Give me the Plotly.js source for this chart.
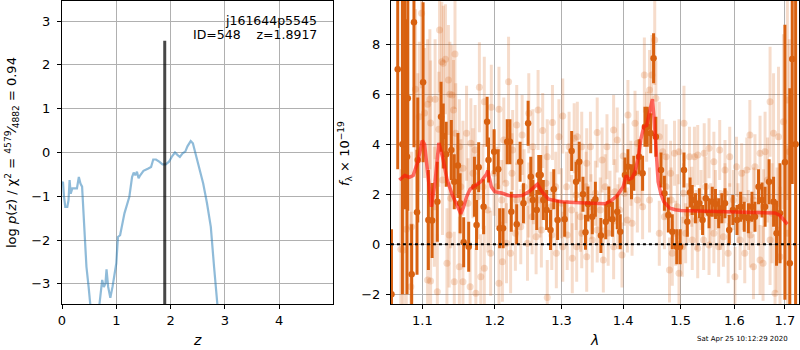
<!DOCTYPE html>
<html>
<head>
<meta charset="utf-8">
<script src="https://cdn.plot.ly/plotly-3.0.1.min.js"></script>
<style>html,body{margin:0;padding:0;background:#fff}#chart{width:800px;height:350px}</style>
</head>
<body>
<div id="chart"></div>
<script>
// ---------- left panel: redshift PDF ----------
const zGrid = [0.005,0.018,0.037,0.06,0.098,0.12,0.14,0.16,0.19,0.226,
  0.275,0.31,0.34,0.37,0.41,0.45,0.49,0.52,0.6,0.69,
  0.74,0.77,0.80,0.82,0.85,0.89,0.93,1.0,1.03,1.07,
  1.15,1.24,1.29,1.32,1.35,1.38,1.41,1.44,1.50,1.58,
  1.64,1.68,1.73,1.79,1.85,1.91,1.97,2.03,2.08,2.13,
  2.17,2.22,2.27,2.31,2.37,2.41,2.46,2.52,2.60,2.67,
  2.74,2.80,2.86,2.92];
const logPz = [-0.7,-0.67,-1.01,-1.24,-1.24,-1.09,-0.63,-0.94,-0.82,-0.82,
  -0.82,-0.56,-0.71,-0.78,-1.7,-2.61,-3.07,-3.46,-4.5,-3.46,
  -2.91,-3.07,-2.99,-2.67,-3.07,-3.32,-3.07,-2.53,-1.93,-1.89,
  -1.39,-1.01,-0.56,-0.46,-0.52,-0.44,-0.59,-0.52,-0.42,-0.37,
  -0.33,-0.16,-0.16,-0.21,-0.27,-0.27,-0.21,-0.08,0.0,-0.06,
  -0.10,-0.02,0.02,0.14,0.26,0.21,-0.02,-0.29,-0.71,-1.16,
  -1.7,-2.61,-3.46,-4.3];
const zBest = 1.8917;
const zBestLine = [-4.0, 2.55];
const zTicks = [0,1,2,3,4];
const pzTicks = [-3,-2,-1,0,1,2,3];
const pzTickText = ['\u22123','\u22122','\u22121','0','1','2','3'];

// ---------- right panel: spectrum ----------
const darkLam = [1.060,1.068,1.074,1.077,1.080,1.081,1.086,1.089,1.093,1.094,
  1.101,1.108,1.113,1.120,1.125,1.128,1.132,1.139,1.143,1.148,
  1.151,1.156,1.163,1.171,1.174,1.177,1.184,1.189,1.191,1.199,
  1.205,1.207,1.212,1.218,1.222,1.224,1.232,1.237,1.242,1.249,
  1.253,1.256,1.262,1.265,1.268,1.272,1.277,1.283,1.288,1.294,
  1.305,1.316,1.323,1.328,1.334,1.338,1.342,1.349,1.354,1.363,
  1.371,1.376,1.382,1.390,1.395,1.403,1.408,1.414,1.418,1.427,
  1.433,1.437,1.441,1.447,1.452,1.456,1.465,1.471,1.478,1.485,
  1.493,1.499,1.506,1.512,1.517,1.521,1.527,1.534,1.540,1.546,
  1.552,1.558,1.564,1.570,1.576,1.582,1.590,1.597,1.605,1.612,
  1.619,1.627,1.634,1.640,1.647,1.654,1.660,1.668,1.677,1.683,
  1.690,1.700,1.710,1.715,1.722];
const darkFlux = [-2.0,7.0,4.0,5.9,3.5,5.84,-1.2,8.88,1.28,3.37,
  6.48,0.97,0.95,1.7,5.1,4.33,3.6,3.77,2.5,3.15,
  1.64,0.08,-0.1,2.3,0.77,3.08,1.5,4.9,3.37,3.7,
  3.0,0.64,0.64,4.1,4.1,1.3,0.8,3.3,1.64,4.84,
  2.7,1.77,1.37,2.77,2.77,1.77,1.37,0.57,2.2,0.97,
  1.0,3.73,2.5,3.3,2.0,0.48,1.61,1.1,1.8,0.35,
  0.9,1.61,1.0,1.3,0.5,2.77,3.1,2.5,2.84,3.5,
  2.84,4.7,4.7,4.44,7.44,4.3,2.97,2.04,1.17,0.5,
  -0.1,-0.1,2.97,0.9,2.07,1.77,1.44,1.64,0.97,1.84,
  1.24,1.7,1.61,1.24,1.44,1.64,0.57,1.37,0.97,1.5,
  1.1,1.04,1.5,1.1,2.3,1.77,1.5,2.5,1.7,0.44,
  1.24,3.28,-0.76,7.41,4.0];
const darkErr = [2.6,4.0,6.0,4.5,5.5,4.5,2.0,5.0,2.5,2.5,
  3.2,2.0,1.5,1.6,1.4,1.3,1.3,1.2,1.1,1.3,
  1.2,1.0,1.0,1.2,1.0,1.0,1.1,1.0,0.9,0.9,
  0.8,0.8,0.8,0.9,0.9,0.8,0.8,0.8,0.8,0.9,
  0.8,0.8,0.8,0.8,0.8,0.8,0.8,0.8,0.8,0.8,
  0.7,0.8,0.8,0.8,0.7,0.7,0.7,0.7,0.7,0.7,
  0.7,0.7,0.7,0.7,0.7,0.7,0.7,0.7,0.7,0.7,
  0.7,0.8,0.8,0.8,1.0,0.8,0.7,0.7,0.7,0.7,
  0.7,0.7,0.7,0.6,0.6,0.6,0.6,0.6,0.6,0.6,
  0.6,0.6,0.6,0.6,0.6,0.6,0.6,0.6,0.6,0.6,
  0.6,0.6,0.6,0.6,0.7,0.7,0.8,0.9,1.0,1.3,
  2.0,5.5,7.0,5.0,8.0];

const lightLam = [1.099,1.123,1.144,1.126,1.135,1.110,1.140,1.103,1.096,1.091,
  1.107,1.111,1.117,1.122,1.128,1.131,1.137,1.142,1.145,1.150,
  1.155,1.160,1.166,1.172,1.178,1.185,1.195,1.199,1.206,1.213,
  1.220,1.226,1.232,1.240,1.250,1.256,1.264,1.271,1.278,1.286,
  1.296,1.302,1.312,1.320,1.325,1.332,1.340,1.346,1.357,1.365,
  1.373,1.384,1.390,1.400,1.408,1.420,1.424,1.436,1.440,1.445,
  1.449,1.454,1.456,1.462,1.468,1.474,1.482,1.489,1.497,1.506,
  1.516,1.525,1.531,1.543,1.552,1.561,1.572,1.582,1.591,1.604,
  1.614,1.624,1.630,1.640,1.650,1.660,1.670,1.677,1.687,1.697,
  1.705,1.709,
  1.075,1.085,1.107,1.111,1.120,1.133,1.136,1.143,1.150,1.155,
  1.165,1.173,1.180,1.185,1.194,1.206,1.211,1.217,1.223,1.230,
  1.238,1.248,1.255,1.261,1.269,1.278,1.285,1.292,1.302,1.309,
  1.317,1.324,1.332,1.340,1.349,1.357,1.367,1.375,1.384,1.391,
  1.398,1.407,1.415,1.424,1.433,1.445,1.462,1.471,1.480,1.485,
  1.491,1.497,1.503,1.509,1.521,1.531,1.542,1.552,1.561,1.570,
  1.579,1.588,1.601,1.611,1.620,1.631,1.637,1.650,1.656,1.670,
  1.680,1.690,1.705,1.072,1.079,1.086,
  1.094,1.116,1.127,1.138,1.152,1.162,1.169,1.176,1.183,1.190,
  1.203,1.210,1.216,1.225,1.232,1.243,1.250,1.257,1.267,1.276,
  1.284,1.291,1.300,1.308,1.316,1.323,1.330,1.339,1.347,1.354,
  1.362,1.370,1.378,1.386,1.394,1.402,1.413,1.430,1.474,1.483,
  1.494,1.505,1.512,1.520,1.528,1.537,1.546,1.555,1.564,1.573,
  1.582,1.591,1.598,1.607,1.617,1.627,1.637,1.647,1.657,1.665,
  1.674,1.684];
const lightFlux = [9.24,8.57,7.61,7.3,6.57,5.8,5.97,5.25,5.1,6.2,
  5.6,4.85,5.8,4.6,7.24,7.4,6.0,5.37,4.44,3.9,
  3.04,4.44,4.04,3.77,6.28,5.7,5.48,2.84,5.4,4.17,
  6.5,3.77,4.77,4.37,5.24,3.9,5.37,4.55,3.5,4.87,
  4.3,5.13,3.9,4.24,4.3,3.9,3.24,3.9,4.47,3.37,
  3.9,4.57,4.17,3.53,5.17,4.84,4.04,6.77,4.7,6.17,
  6.77,8.17,5.84,4.3,3.7,3.5,2.84,3.64,3.7,4.84,
  3.5,3.5,3.57,3.64,3.84,3.3,3.77,2.97,3.5,3.1,
  2.84,2.97,4.37,3.1,3.64,3.7,5.7,4.44,4.3,4.9,
  5.77,3.7,
  -0.23,-1.7,-1.43,-1.47,-1.9,-0.76,0.37,-1.5,-0.9,-1.5,
  -1.7,-1.96,-1.3,-0.96,-0.36,-1.56,-0.7,0.04,-0.36,0.44,
  0.7,0.04,1.1,0.3,0.57,-2.13,0.37,-0.36,-0.1,0.37,
  -0.56,-0.1,0.44,-0.5,0.17,0.57,-0.63,0.44,-0.1,1.1,
  -0.43,0.97,0.84,1.77,1.5,1.77,0.44,1.1,-1.03,-0.36,
  0.44,-1.16,-0.1,0.44,0.17,-0.16,0.17,-0.03,0.44,-0.1,
  0.3,-0.36,-1.3,0.17,-0.36,0.37,-0.9,-0.63,-0.76,0.17,
  -1.96,-0.5,0.44,-0.2,0.6,0.7,
  4.04,1.5,2.57,1.84,2.3,1.64,2.84,1.9,2.3,1.37,
  2.3,1.77,2.44,2.84,1.77,2.3,1.77,2.3,1.77,2.44,
  1.5,2.3,1.64,2.3,1.37,1.97,1.1,2.3,1.5,2.04,
  1.37,2.3,1.64,2.1,1.37,2.04,2.84,2.84,2.3,1.77,
  1.5,2.04,1.24,1.9,0.97,1.77,2.3,1.24,1.77,0.97,
  2.04,1.24,1.77,1.24,1.77,0.97,1.77,1.24,1.5,2.57,
  1.24,0.57];
const lightErr = [3.0,2.5,2.2,2.4,2.2,2.8,2.0,2.6,3.0,3.2,
  2.6,2.5,2.4,2.3,2.3,2.2,2.1,2.0,2.0,1.9,
  1.9,1.9,1.8,1.8,1.8,1.8,1.7,1.7,1.7,1.7,
  1.8,1.6,1.6,1.6,1.6,1.5,1.6,1.5,1.5,1.5,
  1.5,1.5,1.4,1.4,1.4,1.4,1.4,1.4,1.4,1.3,
  1.3,1.4,1.3,1.3,1.4,1.3,1.3,1.5,1.4,1.6,
  1.6,1.8,1.5,1.4,1.3,1.3,1.3,1.3,1.3,1.5,
  1.2,1.2,1.2,1.2,1.2,1.2,1.2,1.2,1.2,1.2,
  1.2,1.3,1.4,1.3,1.5,1.6,2.2,2.4,2.8,3.5,
  4.0,4.5,
  3.2,3.0,2.5,2.4,2.3,2.2,2.1,2.0,2.0,1.9,
  1.8,1.8,1.7,1.7,1.7,1.6,1.6,1.6,1.6,1.5,
  1.5,1.5,1.5,1.5,1.5,1.5,1.4,1.4,1.4,1.4,
  1.4,1.4,1.4,1.4,1.3,1.3,1.3,1.3,1.3,1.3,
  1.3,1.3,1.3,1.3,1.3,1.3,1.3,1.3,1.3,1.3,
  1.3,1.3,1.2,1.2,1.2,1.2,1.2,1.2,1.2,1.2,
  1.2,1.2,1.2,1.2,1.2,1.3,1.3,1.4,1.5,1.8,
  2.3,2.8,3.5,3.2,3.0,3.0,
  2.8,2.4,2.2,2.0,1.9,1.8,1.8,1.7,1.7,1.7,
  1.6,1.6,1.6,1.6,1.5,1.5,1.5,1.5,1.5,1.5,
  1.4,1.4,1.4,1.4,1.4,1.4,1.4,1.4,1.3,1.3,
  1.3,1.3,1.3,1.3,1.3,1.3,1.3,1.3,1.3,1.3,
  1.3,1.2,1.2,1.2,1.2,1.2,1.2,1.2,1.2,1.2,
  1.2,1.2,1.2,1.2,1.2,1.2,1.3,1.3,1.5,1.7,
  2.0,2.5];

const modelLam = [1.070,1.077,1.083,1.088,1.094,1.100,1.103,1.107,1.112,1.117,
  1.122,1.127,1.133,1.140,1.146,1.152,1.156,1.160,1.165,1.170,
  1.180,1.188,1.190,1.195,1.200,1.210,1.220,1.230,1.240,1.250,
  1.260,1.263,1.270,1.280,1.290,1.300,1.320,1.340,1.360,1.370,
  1.380,1.390,1.400,1.405,1.410,1.415,1.420,1.425,1.430,1.435,
  1.440,1.445,1.450,1.453,1.457,1.460,1.465,1.470,1.480,1.490,
  1.500,1.550,1.600,1.650,1.680,1.690,1.700,1.705];
const modelFlux = [2.57,2.75,2.68,2.75,3.3,4.15,4.0,3.0,1.5,2.5,
  4.05,3.5,2.6,2.0,1.6,1.22,1.5,1.9,2.2,2.3,
  2.5,2.8,2.95,2.3,2.1,2.05,1.95,1.93,1.95,2.1,
  2.35,2.4,2.1,1.8,1.75,1.7,1.67,1.64,1.6,1.62,
  1.75,1.95,2.3,2.75,2.6,2.65,2.9,3.4,4.2,4.7,
  4.75,5.3,5.8,5.0,3.5,2.5,2.0,1.7,1.45,1.38,
  1.35,1.33,1.3,1.28,1.25,1.15,0.9,0.8];
const zeroLine = [0, 0];
const lamEnds = [1.0, 1.8];
const lamTicks = [1.1,1.2,1.3,1.4,1.5,1.6,1.7];
const fluxTicks = [-2,0,2,4,6,8];
const fluxTickText = ['\u22122','0','2','4','6','8'];

const darkCol = 'rgb(216,97,16)';
const lightCol = 'rgba(216,97,16,0.22)';
const FONT = 'DejaVu Sans, sans-serif';

const traces = [
  {x: zGrid, y: logPz, xaxis:'x', yaxis:'y', mode:'lines',
   line:{color:'rgba(31,119,180,0.5)', width:2.2}, hoverinfo:'skip'},
  {x: [zBest, zBest], y: zBestLine, xaxis:'x', yaxis:'y', mode:'lines',
   line:{color:'rgba(0,0,0,0.72)', width:3}, hoverinfo:'skip'},
  {x: lightLam, y: lightFlux, xaxis:'x2', yaxis:'y2', mode:'markers',
   marker:{color:lightCol, size:7, line:{width:0}},
   error_y:{type:'data', array:lightErr, visible:true, thickness:3, width:0, color:lightCol}},
  {x: darkLam, y: darkFlux, xaxis:'x2', yaxis:'y2', mode:'markers',
   marker:{color:darkCol, size:6.5, line:{width:0}},
   error_y:{type:'data', array:darkErr, visible:true, thickness:3, width:0, color:darkCol}},
  {x: modelLam, y: modelFlux, xaxis:'x2', yaxis:'y2', mode:'lines',
   line:{color:'rgba(255,20,10,0.62)', width:3.5}},
  {x: lamEnds, y: zeroLine, xaxis:'x2', yaxis:'y2', mode:'lines',
   line:{color:'black', width:1.8, dash:'dot'}}
];

const axCommon = {showline:true, mirror:true, linecolor:'black', linewidth:1,
  ticks:'outside', ticklen:4, tickcolor:'black', showgrid:true, gridcolor:'#b0b0b0',
  gridwidth:1, zeroline:false, automargin:false,
  tickfont:{family:FONT, size:13, color:'black'}};

const ydom = [46/350, 349/350];
const layout = {
  width:800, height:350, margin:{l:0,r:0,t:0,b:0},
  paper_bgcolor:'white', plot_bgcolor:'white', showlegend:false,
  font:{family:FONT, color:'black'},
  xaxis: Object.assign({}, axCommon, {domain:[62/800, 333/800], range:[0, 4.99],
    tickvals:zTicks, ticktext:zTicks.map(String), anchor:'y'}),
  yaxis: Object.assign({}, axCommon, {domain:ydom, range:[-3.46, 3.46],
    tickvals:pzTicks, ticktext:pzTickText, anchor:'x', ticklabelstandoff:4}),
  xaxis2: Object.assign({}, axCommon, {domain:[391/800, 799/800], type:'log',
    range:[Math.log10(1.0594), Math.log10(1.729)],
    tickvals:lamTicks, ticktext:lamTicks.map(v=>v.toFixed(1)), anchor:'y2'}),
  yaxis2: Object.assign({}, axCommon, {domain:ydom, range:[-2.39, 9.73],
    tickvals:fluxTicks, ticktext:fluxTickText, anchor:'x2', ticklabelstandoff:3}),
  annotations: [
    {xref:'paper', yref:'paper', x:319/800, y:1-20/350, xanchor:'right', yanchor:'middle',
     text:'j161644p5545', showarrow:false, font:{size:12.5, family:FONT}},
    {xref:'paper', yref:'paper', x:319/800, y:1-35/350, xanchor:'right', yanchor:'middle',
     text:'ID=548\u00a0\u00a0\u00a0\u00a0z=1.8917', showarrow:false, font:{size:12.5, family:FONT}},
    {xref:'paper', yref:'paper', x:12/800, y:1-153/350, xanchor:'center', yanchor:'middle',
     textangle:-90, showarrow:false, font:{size:13, family:FONT},
     text:'log <i>p</i>(<i>z</i>) / χ<sup>2</sup> = <sup>4579</sup>⁄<sub>4882</sub> = 0.94'},
    {xref:'paper', yref:'paper', x:345/800, y:1-154/350, xanchor:'center', yanchor:'middle',
     textangle:-90, showarrow:false, font:{size:13, family:FONT},
     text:'<i>f</i><sub>λ</sub> × 10<sup>−19</sup>'},
    {xref:'paper', yref:'paper', x:197/800, y:1-340/350, xanchor:'center', yanchor:'middle',
     text:'<i>z</i>', showarrow:false, font:{size:14, family:FONT}},
    {xref:'paper', yref:'paper', x:594/800, y:1-340/350, xanchor:'center', yanchor:'middle',
     text:'<i>λ</i>', showarrow:false, font:{size:14, family:FONT}},
    {xref:'paper', yref:'paper', x:742/800, y:1-339/350, xanchor:'center', yanchor:'middle',
     text:'Sat Apr 25 10:12:29 2020', showarrow:false, font:{size:7, family:FONT}}
  ]
};

Plotly.newPlot('chart', traces, layout, {staticPlot:true, displayModeBar:false});
</script>
</body>
</html>
